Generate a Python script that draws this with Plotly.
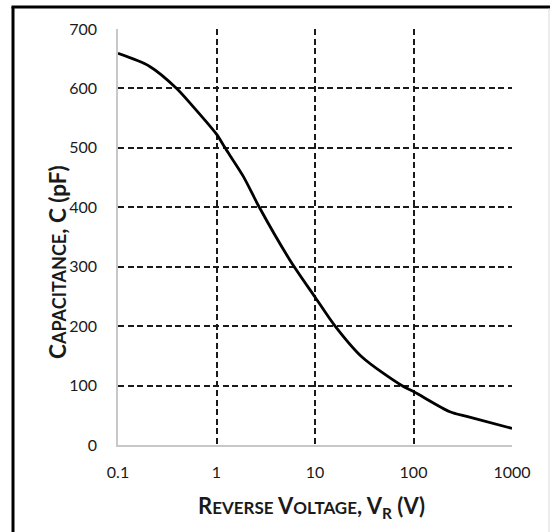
import plotly.graph_objects as go

# Data
voltage = [0.1, 0.21, 0.394, 0.582, 1.0, 1.22, 1.87, 2.72, 5.57, 10, 16, 30, 76, 100, 234, 347, 1000]
capacitance = [659, 637, 600, 569, 523, 500, 452, 400, 311, 249, 200, 148, 100, 90, 56, 48, 28]

x_tickvals = [0.1, 1, 10, 100, 1000]
x_ticktext = ["0.1", "1", "10", "100", "1000"]
y_tickvals = [0, 100, 200, 300, 400, 500, 600, 700]

x_title = "<b>R<span style='font-size:17px'>EVERSE</span> V<span style='font-size:17px'>OLTAGE</span>, V<sub>R</sub> (V)</b>"
y_title = "<b>C<span style='font-size:18px'>APACITANCE</span>, C (pF)</b>"

W, H = 550, 532
L, R, T, B = 118, 512, 29, 445

def px(x):
    return (x - L) / (R - L)

def py(y):
    return (B - y) / (B - T)

fig = go.Figure()
fig.add_trace(go.Scatter(
    x=voltage, y=capacitance, mode="lines",
    line=dict(color="black", width=2.8, shape="spline", smoothing=0.8),
    hoverinfo="skip", showlegend=False,
))

FONT = "Lato"
fig.update_layout(
    width=W, height=H,
    margin=dict(l=L, r=W - R, t=T, b=H - B),
    paper_bgcolor="white", plot_bgcolor="white",
    font=dict(family=FONT, color="#000000", size=14),
    showlegend=False,
)
grid = dict(showgrid=True, gridcolor="#1a1a1a", gridwidth=1.5, griddash="6px,3.5px",
            showline=True, linecolor="#c8c8c8", linewidth=1.5, zeroline=False, ticks="",
            tickfont=dict(size=16, color="#1a1a1a"))
fig.update_xaxes(type="log", range=[-1, 3], tickvals=x_tickvals, ticktext=x_ticktext,
                 ticklabelstandoff=12, **grid)
fig.update_yaxes(range=[0, 700], tickvals=y_tickvals, ticklabelstandoff=16, **grid)

fig.add_annotation(text=x_title, xref="paper", yref="paper", x=px(311.5), y=py(507),
                   xanchor="center", yanchor="middle", showarrow=False,
                   font=dict(size=22, color="#1a1a1a", family=FONT))
fig.add_annotation(text=y_title, xref="paper", yref="paper", x=px(57), y=py(262),
                   xanchor="center", yanchor="middle", showarrow=False, textangle=-90,
                   font=dict(size=22.5, color="#1a1a1a", family=FONT))

# outer frame (as in the reference, partially cropped)
fig.add_shape(type="line", xref="paper", yref="paper",
              x0=px(13), x1=px(13), y0=py(7), y1=py(540),
              line=dict(color="black", width=3))
fig.add_shape(type="line", xref="paper", yref="paper",
              x0=px(11.5), x1=px(552), y0=py(7), y1=py(7),
              line=dict(color="black", width=3))
fig.add_shape(type="line", xref="paper", yref="paper",
              x0=px(549), x1=px(549), y0=py(8.5), y1=py(540),
              line=dict(color="#d9d9d9", width=1))

fig.write_html("out.html")
